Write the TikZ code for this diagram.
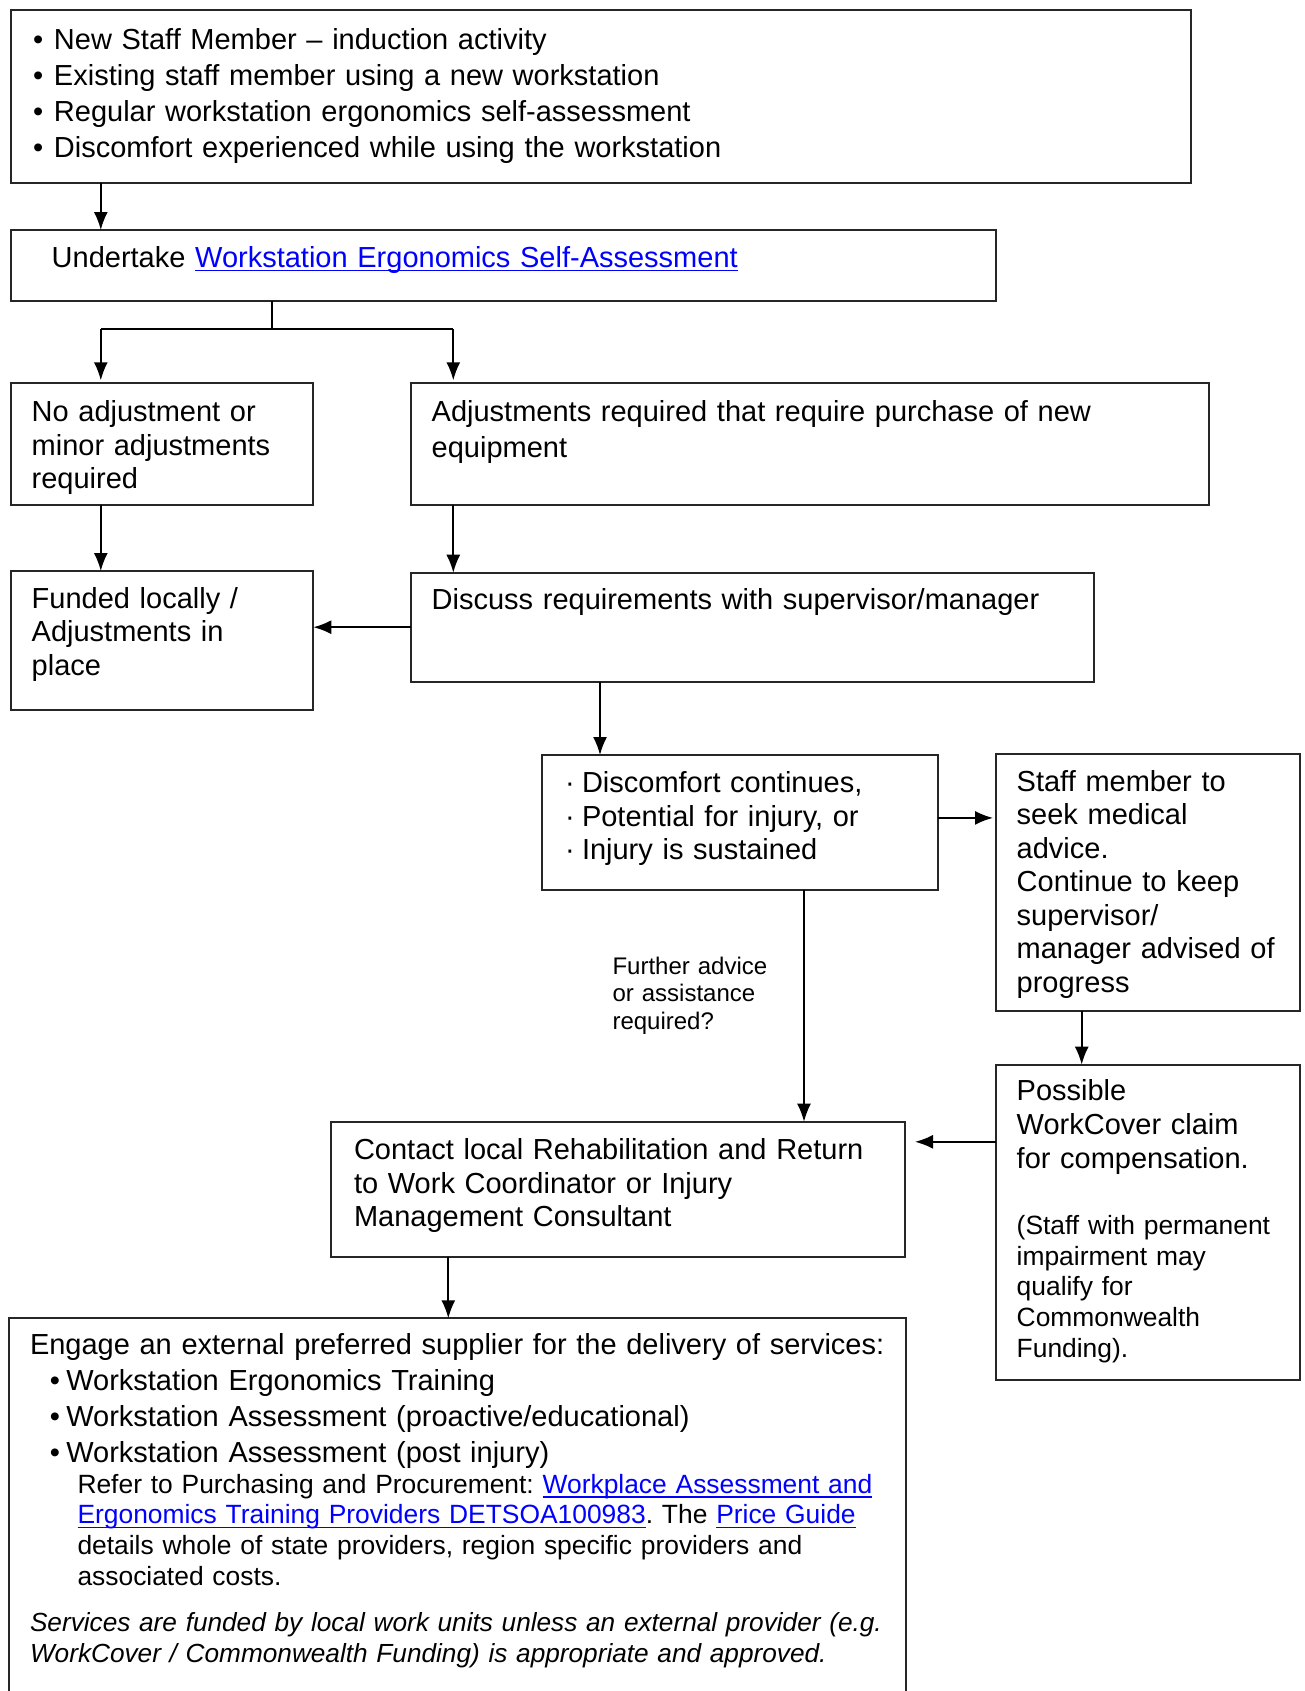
\documentclass[tikz,border=0pt]{standalone}
\usepackage{fontspec}
\setmainfont{Liberation Sans}
\usetikzlibrary{arrows.meta}
\definecolor{linkblue}{RGB}{0,0,255}
\newsavebox\lnkbox
\newcommand{\lnk}[1]{\leavevmode{\color{linkblue}\sbox\lnkbox{#1}\rlap{\rule[-4.3pt]{\wd\lnkbox}{1.3pt}}\usebox\lnkbox}}
\newcommand{\bul}[1]{\makebox[#1][l]{•}}
\newcommand{\mdot}{\makebox[17pt][l]{·}}
\frenchspacing
\begin{document}
\begin{tikzpicture}[x=1pt,y=-1pt,
  box/.style={draw=black!85,line width=2pt,anchor=north west,inner sep=0pt,outer sep=0pt,fill=none},
  txt/.style={anchor=base west,inner sep=0pt,outer sep=0pt,align=left,text width=900pt},
  big/.style={font=\fontsize{29}{33.5}\selectfont\frenchspacing},
  bigw/.style={font=\fontsize{29}{36}\selectfont\frenchspacing},
  small/.style={font=\fontsize{26.4}{30.6}\selectfont\frenchspacing},
  smallit/.style={font=\fontsize{26.2}{31}\selectfont\itshape\frenchspacing},
  lab/.style={font=\fontsize{24}{27.7}\selectfont},
  conn/.style={line width=1.8pt,draw=black},
  arr/.style={conn,-{Latex[length=18pt,width=14pt]}}]
\useasboundingbox (0,0) rectangle (1304,1691);
\fill[white] (0,0) rectangle (1304,1691);

% boxes
\node[box,minimum width=1180pt,minimum height=173pt] (b1) at (10.8,9.7) {};
\node[box,minimum width=985pt,minimum height=70.5pt] (b2) at (10.8,230) {};
\node[box,minimum width=302.5pt,minimum height=121.7pt] (b3) at (10.8,383.3) {};
\node[box,minimum width=798pt,minimum height=121.7pt] (b4) at (411,383.3) {};
\node[box,minimum width=302.5pt,minimum height=139pt] (b5) at (10.8,571) {};
\node[box,minimum width=683pt,minimum height=109pt] (b6) at (411,572.7) {};
\node[box,minimum width=396pt,minimum height=135pt] (b7) at (542,755) {};
\node[box,minimum width=304pt,minimum height=257pt] (b8) at (996,754) {};
\node[box,minimum width=304pt,minimum height=315pt] (b9) at (996,1064.6) {};
\node[box,minimum width=574pt,minimum height=135pt] (b10) at (331,1121.7) {};
\node[box,minimum width=897pt,minimum height=420pt] (b11) at (8.6,1318.3) {};

% texts
\node[txt,bigw] (t1) at (33,49.3) {\bul{21pt}New Staff Member – induction activity\\
\bul{21pt}Existing staff member using a new workstation\\
\bul{21pt}Regular workstation ergonomics self-assessment\\
\bul{21pt}Discomfort experienced while using the workstation};
\node[txt,big] (t2) at (51.7,267) {Undertake \lnk{Workstation Ergonomics Self-Assessment}};
\node[txt,big] (t3) at (31.7,421.7) {No adjustment or\\minor adjustments\\required};
\node[txt,bigw] (t4) at (431.7,421.7) {Adjustments required that require purchase of new\\equipment};
\node[txt,big] (t5) at (31.7,608.3) {Funded locally /\\Adjustments in\\place};
\node[txt,big] (t6) at (431.7,609.3) {Discuss requirements with supervisor/manager};
\node[txt,big] (t7) at (565,792.9) {\mdot Discomfort continues,\\\mdot Potential for injury, or\\\mdot Injury is sustained};
\node[txt,big] (t8) at (1016.7,791) {Staff member to\\seek medical\\advice.\\Continue to keep\\supervisor/\\manager advised of\\progress};
\node[txt,font=\fontsize{29}{34}\selectfont] (t9a) at (1016.7,1100.7) {Possible\\WorkCover claim\\for compensation.};
\node[txt,small] (t9b) at (1016.7,1234.6) {(Staff with permanent\\impairment may\\qualify for\\Commonwealth\\Funding).};
\node[txt,big] (t10) at (354,1159.6) {Contact local Rehabilitation and Return\\to Work Coordinator or Injury\\Management Consultant};
\node[txt,lab] (lbl) at (612.5,974) {Further advice\\or assistance\\required?};
\node[txt,bigw] (t11a) at (30,1354) {Engage an external preferred supplier for the delivery of services:\\
\hspace*{20pt}\bul{16.3pt}Workstation Ergonomics Training\\
\hspace*{20pt}\bul{16.3pt}Workstation Assessment (proactive/educational)\\
\hspace*{20pt}\bul{16.3pt}Workstation Assessment (post injury)};
\node[txt,small] (t11b) at (77.5,1493.3) {Refer to Purchasing and Procurement: \lnk{Workplace Assessment and}\\
\lnk{Ergonomics Training Providers DETSOA100983}. The \lnk{Price Guide}\\
details whole of state providers, region specific providers and\\
associated costs.};
\node[txt,smallit] (t11c) at (30,1631.7) {Services are funded by local work units unless an external provider (e.g.\\
WorkCover / Commonwealth Funding) is appropriate and approved.};

% connectors
\coordinate (xa) at (100.8,0);
\coordinate (sp) at (272,329);
\coordinate (sL) at (100.8,329);
\coordinate (sR) at (453.3,329);
\coordinate (x67) at (600,0);
\coordinate (x710) at (804,0);
\coordinate (x89) at (1081.7,0);
\coordinate (x1011) at (448.3,0);
\coordinate (y78) at (0,817.9);
\coordinate (y910) at (0,1141.8);

\draw[arr] (xa |- b1.south) -- (xa |- b2.north);
\draw[conn] (sp |- b2.south) -- (sp);
\draw[conn] (sL) -- (sR);
\draw[arr,shorten >=3pt] (sL) -- (sL |- b3.north);
\draw[arr,shorten >=3pt] (sR) -- (sR |- b4.north);
\draw[arr] (sL |- b3.south) -- (sL |- b5.north);
\draw[arr] (sR |- b4.south) -- (sR |- b6.north);
\draw[arr] (b6.west) -- (b6.west -| b5.east);
\draw[arr] (x67 |- b6.south) -- (x67 |- b7.north);
\draw[arr,shorten >=3pt] (b7.east |- y78) -- (b8.west |- y78);
\draw[arr] (x89 |- b8.south) -- (x89 |- b9.north);
\draw[arr] (x710 |- b7.south) -- (x710 |- b10.north);
\draw[arr,shorten >=10pt] (b9.west |- y910) -- (b10.east |- y910);
\draw[arr] (x1011 |- b10.south) -- (x1011 |- b11.north);
\end{tikzpicture}
\end{document}
